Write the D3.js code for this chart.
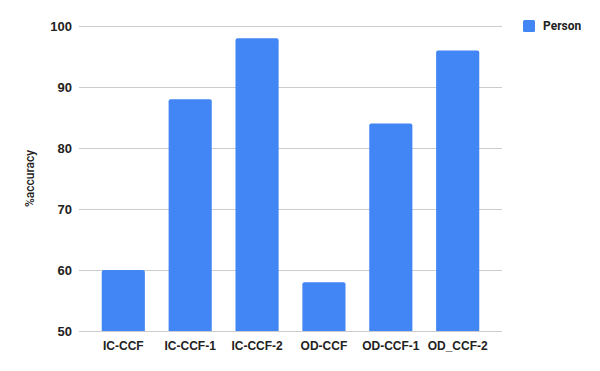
<!DOCTYPE html>
<html lang="en">
<head>
  <meta charset="UTF-8">
  <title>%accuracy by model</title>
  <style>
    body { margin: 0; background: #fff; }
    svg { font-family: Roboto, Arial, sans-serif; display: block; }
    .grid line { stroke: #cccccc; stroke-width: 1; }
    .tick text { font-weight: bold; fill: #222; }
  </style>
</head>
<body>
  <div id="chart"></div>

  <script src="https://d3js.org/d3.v7.min.js"></script>
  <script>
    // Data
    const categories = ['IC-CCF', 'IC-CCF-1', 'IC-CCF-2', 'OD-CCF', 'OD-CCF-1', 'OD_CCF-2'];
    const personValues = [60, 88, 98, 58, 84, 96];
    const yTicks = [50, 60, 70, 80, 90, 100];
    const seriesName = 'Person';

    const width = 600, height = 371;
    const margin = { top: 26, right: 98, bottom: 40, left: 79 };
    const plotW = width - margin.left - margin.right;
    const plotH = height - margin.top - margin.bottom;
    const color = '#4285f4';

    const svg = d3.select('#chart')
      .append('svg')
      .attr('width', width)
      .attr('height', height);

    const g = svg.append('g')
      .attr('transform', `translate(${margin.left},${margin.top})`);

    const x = d3.scaleBand()
      .domain(categories)
      .range([0, plotW])
      .paddingInner(0.355)
      .paddingOuter(0.34);

    const y = d3.scaleLinear()
      .domain([50, 100])
      .range([plotH, 0]);

    // gridlines
    g.append('g')
      .attr('class', 'grid')
      .selectAll('line')
      .data(yTicks)
      .enter()
      .append('line')
      .attr('x1', 0)
      .attr('x2', plotW)
      .attr('y1', d => Math.round(y(d)) + 0.5)
      .attr('y2', d => Math.round(y(d)) + 0.5);

    // y axis labels
    const yAxis = g.append('g')
      .call(d3.axisLeft(y).tickValues(yTicks).tickSize(0).tickPadding(7));
    yAxis.select('.domain').remove();
    yAxis.selectAll('text').style('font-size', '13px');

    // bars with slightly rounded tops
    const r = 2;
    g.selectAll('.bar')
      .data(personValues)
      .enter()
      .append('path')
      .attr('class', 'bar')
      .attr('fill', color)
      .attr('d', (d, i) => {
        const x0 = x(categories[i]), w = x.bandwidth();
        const y0 = y(d), y1 = y(50);
        return `M${x0},${y1} V${y0 + r} Q${x0},${y0} ${x0 + r},${y0} H${x0 + w - r} Q${x0 + w},${y0} ${x0 + w},${y0 + r} V${y1} Z`;
      });

    // x axis labels
    const xAxis = g.append('g')
      .attr('transform', `translate(0,${plotH})`)
      .call(d3.axisBottom(x).tickSize(0).tickPadding(10));
    xAxis.select('.domain').remove();
    xAxis.selectAll('text').style('font-size', '12px');

    // y axis title
    svg.append('text')
      .attr('transform', `translate(34,${margin.top + plotH / 2}) rotate(-90)`)
      .attr('text-anchor', 'middle')
      .style('font-size', '12px')
      .style('font-weight', '500')
      .attr('fill', '#222')
      .text('%accuracy');

    // legend
    const legend = svg.append('g').attr('transform', 'translate(523,20)');
    legend.append('rect')
      .attr('width', 12)
      .attr('height', 12)
      .attr('rx', 1.5)
      .attr('fill', color);
    legend.append('text')
      .attr('x', 20)
      .attr('y', 6)
      .attr('dy', '0.35em')
      .style('font-size', '12px')
      .style('font-weight', 'bold')
      .attr('fill', '#222')
      .text(seriesName);
  </script>
</body>
</html>
